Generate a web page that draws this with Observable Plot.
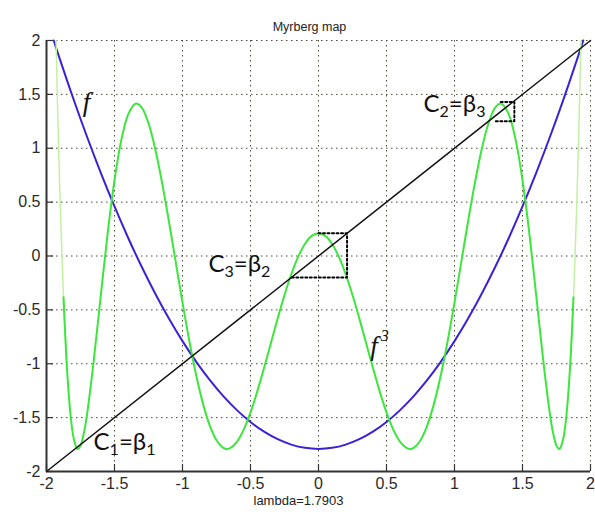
<!DOCTYPE html>
<html><head><meta charset="utf-8">
<script src="https://cdn.jsdelivr.net/npm/d3@7"></script>
<script src="https://cdn.jsdelivr.net/npm/@observablehq/plot@0.6"></script>
<style>html,body{margin:0;padding:0;background:#fff} svg{display:block}</style>
</head><body><div id="chart"></div>
<script>
const titleText = "Myrberg map";
const xLabelText = "lambda=1.7903";
const xTicks = [-2, -1.5, -1, -0.5, 0, 0.5, 1, 1.5, 2];
const xTickLabels = ["-2", "-1.5", "-1", "-0.5", "0", "0.5", "1", "1.5", "2"];
const yTicks = [-2, -1.5, -1, -0.5, 0, 0.5, 1, 1.5, 2];
const yTickLabels = ["-2", "-1.5", "-1", "-0.5", "0", "0.5", "1", "1.5", "2"];

// diagonal y = x
const diagX = [-2, 2];
const diagY = [-2, 2];

// f (blue)
const fX = [-1.9469, -1.9, -1.8, -1.7, -1.6, -1.5, -1.4, -1.3, -1.2, -1.1, -1.0, -0.9, -0.8, -0.7, -0.6, -0.5, -0.4, -0.3, -0.2, -0.1, 0,
            0.1, 0.2, 0.3, 0.4, 0.5, 0.6, 0.7, 0.8, 0.9, 1.0, 1.1, 1.2, 1.3, 1.4, 1.5, 1.6, 1.7, 1.8, 1.9, 1.9469];
const fY = [2.0, 1.8197, 1.4497, 1.0997, 0.7697, 0.4597, 0.1697, -0.1003, -0.3503, -0.5803, -0.7903, -0.9803, -1.1503, -1.3003, -1.4303, -1.5403, -1.6303, -1.7003, -1.7503, -1.7803, -1.7903,
            -1.7803, -1.7503, -1.7003, -1.6303, -1.5403, -1.4303, -1.3003, -1.1503, -0.9803, -0.7903, -0.5803, -0.3503, -0.1003, 0.1697, 0.4597, 0.7697, 1.0997, 1.4497, 1.8197, 2.0];

// f^3 (green)
const f3X = [-1.9296, -1.92, -1.91, -1.9, -1.875, -1.85, -1.825, -1.8, -1.775, -1.7687, -1.75, -1.725, -1.7, -1.65, -1.6, -1.55, -1.5, -1.45, -1.4, -1.35, -1.338, -1.3, -1.25, -1.2, -1.15, -1.1, -1.05, -1.0, -0.95, -0.9, -0.85, -0.8, -0.75, -0.7, -0.6725, -0.65, -0.6, -0.55, -0.5, -0.45, -0.4, -0.35, -0.3, -0.25, -0.2, -0.15, -0.1, -0.05, 0,
             0.05, 0.1, 0.15, 0.2, 0.25, 0.3, 0.35, 0.4, 0.45, 0.5, 0.55, 0.6, 0.65, 0.6725, 0.7, 0.75, 0.8, 0.85, 0.9, 0.95, 1.0, 1.05, 1.1, 1.15, 1.2, 1.25, 1.3, 1.338, 1.35, 1.4, 1.45, 1.5, 1.55, 1.6, 1.65, 1.7, 1.725, 1.75, 1.7687, 1.775, 1.8, 1.825, 1.85, 1.875, 1.9, 1.91, 1.92, 1.9296];
const f3Y = [2.0, 1.4674, 0.9690, 0.5232, -0.3827, -1.0268, -1.4512, -1.6934, -1.7867, -1.7903, -1.7608, -1.6418, -1.4528, -0.9415, -0.3554, 0.2134, 0.7029, 1.0754, 1.3126, 1.4112, 1.4149, 1.3790, 1.2318, 0.9906, 0.6792, 0.3225, -0.0552, -0.4314, -0.7861, -1.1026, -1.3677, -1.5721, -1.7103, -1.7804, -1.7903, -1.7838, -1.7250, -1.6112, -1.4513, -1.2562, -1.0376, -0.8077, -0.5787, -0.3623, -0.1691, -0.0086, 0.1118, 0.1863, 0.2116,
             0.1863, 0.1118, -0.0086, -0.1691, -0.3623, -0.5787, -0.8077, -1.0376, -1.2562, -1.4513, -1.6112, -1.7250, -1.7838, -1.7903, -1.7804, -1.7103, -1.5721, -1.3677, -1.1026, -0.7861, -0.4314, -0.0552, 0.3225, 0.6792, 0.9906, 1.2318, 1.3790, 1.4149, 1.4112, 1.3126, 1.0754, 0.7029, 0.2134, -0.3554, -0.9415, -1.4528, -1.6418, -1.7608, -1.7903, -1.7867, -1.6934, -1.4512, -1.0268, -0.3827, 0.5232, 0.9690, 1.4674, 2.0];

// dotted cobweb boxes
const box1X = [0, 0.21, 0.21, -0.2];
const box1Y = [0.21, 0.21, -0.2, -0.2];
const box2X = [1.34, 1.44, 1.44, 1.29];
const box2Y = [1.43, 1.43, 1.25, 1.25];

// annotations (data coordinates)
const cLabels = ["C1=β1", "C2=β3", "C3=β2"];
const cLabelX = [-1.654, 0.772, -0.809];
const cLabelY = [-1.805, 1.332, -0.150];
const fLabels = ["f", "f^3"];
const fLabelX = [-1.706, 0.449];
const fLabelY = [1.35, -0.923];

const rows = (xs, ys) => xs.map((x, i) => ({x, y: ys[i]}));
const diag = rows(diagX, diagY);
const fRows = rows(fX, fY);
const f3Rows = rows(f3X, f3Y).map(d => ({...d, side: d.x < 0 ? "L" : "R"}));
const f3Main = f3Rows.filter(d => Math.abs(d.x) <= 1.875);
const f3Edge = f3Rows.filter(d => Math.abs(d.x) >= 1.85);
const box1 = rows(box1X, box1Y);
const box2 = rows(box2X, box2Y);
const cNotes = cLabels.map((t, i) => ({t, x: cLabelX[i], y: cLabelY[i]}));
const fNotes = fLabels.map((t, i) => ({t, x: fLabelX[i], y: fLabelY[i]}));

const frameH = 514 - 40 - 43;
const frameW = 595 - 46 - 5;
const grid = {stroke: "#4a4a3a", strokeOpacity: 1, strokeWidth: 1, strokeDasharray: "1.5,3.5"};

const svg = Plot.plot({
  width: 595, height: 514,
  marginLeft: 46, marginRight: 5, marginTop: 40, marginBottom: 43,
  x: {domain: [-2, 2]},
  y: {domain: [-2, 2]},
  style: {fontFamily: "'Liberation Sans', Arial, sans-serif", background: "#fff", color: "#333"},
  marks: [
    Plot.gridX(xTicks, grid),
    Plot.gridY(yTicks, grid),
    Plot.axisX(xTicks, {tickSize: 0, tickPadding: 6, tickFormat: d => xTickLabels[xTicks.indexOf(d)], fontSize: 16, fill: "#2a2a2a", label: null}),
    Plot.axisY(yTicks, {tickSize: 0, tickPadding: 6, tickFormat: d => yTickLabels[yTicks.indexOf(d)], fontSize: 16, fill: "#2a2a2a", label: null}),
    Plot.tickX(xTicks, {x: d => d, insetTop: frameH - 7, stroke: "#333", strokeWidth: 1.2}),
    Plot.tickY(yTicks, {y: d => d, insetRight: frameW - 7, stroke: "#333", strokeWidth: 1.2}),
    Plot.ruleX([-2], {stroke: "#333", strokeWidth: 2}),
    Plot.ruleY([-2], {stroke: "#333", strokeWidth: 2}),
    Plot.line(fRows, {x: "x", y: "y", stroke: "#3a22d6", strokeWidth: 2, curve: "catmull-rom"}),
    Plot.line(f3Edge, {x: "x", y: "y", z: "side", stroke: "#c4f0a4", strokeWidth: 1.5, curve: "catmull-rom"}),
    Plot.line(f3Main, {x: "x", y: "y", stroke: "#3ce63c", strokeWidth: 2, curve: "catmull-rom"}),
    Plot.line(diag, {x: "x", y: "y", stroke: "#111", strokeWidth: 1.5}),
    Plot.line(box1, {x: "x", y: "y", stroke: "#000", strokeWidth: 2, strokeDasharray: "2,2.5"}),
    Plot.line(box2, {x: "x", y: "y", stroke: "#000", strokeWidth: 2, strokeDasharray: "2,2.5"}),
    Plot.text(cNotes, {x: "x", y: "y", text: "t", textAnchor: "start", lineAnchor: "bottom", fontSize: 24, fontFamily: "Lato, 'Open Sans', sans-serif", fill: "#111"}),
    Plot.text(fNotes, {x: "x", y: "y", text: "t", textAnchor: "middle", lineAnchor: "bottom", fontSize: 27, fontStyle: "italic", fontFamily: "'Liberation Serif', serif", fill: "#111"}),
    Plot.text([titleText], {frameAnchor: "top", dy: -18, dx: -9, fontSize: 12.5, fill: "#222"}),
    Plot.text([xLabelText], {frameAnchor: "bottom", dy: 33, dx: -20, fontSize: 13, fill: "#222"})
  ]
});

// subscripts / superscripts
d3.select(svg).selectAll("text").each(function () {
  const t = this.textContent;
  const sel = d3.select(this);
  let m = t.match(/^C(\d)=β(\d)$/);
  if (m) {
    sel.text(null);
    sel.append("tspan").text("C");
    sel.append("tspan").attr("font-size", "16px").attr("dy", "5").text(m[1]);
    sel.append("tspan").attr("dy", "-5").text("=β");
    sel.append("tspan").attr("font-size", "16px").attr("dy", "5").text(m[2]);
    return;
  }
  m = t.match(/^f\^(\d)$/);
  if (m) {
    sel.text(null);
    sel.append("tspan").text("f");
    sel.append("tspan").attr("font-size", "16px").attr("dx", "3").attr("dy", "-14").text(m[1]);
  }
});

document.getElementById("chart").append(svg);
</script>
</body></html>
